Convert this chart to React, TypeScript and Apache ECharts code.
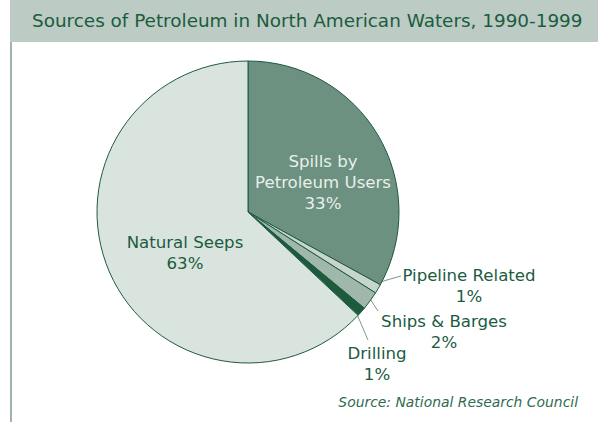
import React, { useEffect, useRef } from "react";
import * as echarts from "echarts";

const titleText = "Sources of Petroleum in North American Waters, 1990-1999";
const sourceText = "Source: National Research Council";
const categories = ["Spills by\nPetroleum Users", "Pipeline Related", "Ships & Barges", "Drilling", "Natural Seeps"];
const values = [33, 1, 2, 1, 63];
const sliceColors = ["#6c9180", "#c7d5cd", "#a0b8ab", "#1e5b3e", "#d9e4de"];

const DARK = "#1b5c3f";
const FONT = "'DejaVu Sans', sans-serif";

// label anchor positions (layout only)
const labelPos: [number, number][] = [
  [323, 182],
  [469, 286],
  [444, 332],
  [377, 364],
  [185, 253],
];
const labelLines: ([number, number][] | null)[] = [
  null,
  [[372, 285], [387, 280], [401, 276]],
  [[367, 293], [372, 302], [378, 311]],
  [[356, 312], [362, 326], [368, 340]],
  null,
];

export default function App() {
  const ref = useRef<HTMLDivElement>(null);
  useEffect(() => {
    if (!ref.current) return;
    const chart = echarts.init(ref.current, null, { renderer: "svg" });
    chart.setOption({
      animation: false,
      backgroundColor: "#ffffff",
      graphic: [
        { type: "rect", shape: { x: 10, y: 0, width: 588, height: 42 }, style: { fill: "#bccbc3" }, silent: true },
        { type: "line", shape: { x1: 11, y1: 42, x2: 11, y2: 422 }, style: { stroke: "#7f9a8f", lineWidth: 1.5 }, silent: true },
        {
          type: "text", left: 32, top: 11,
          style: { text: titleText, fill: DARK, font: `18.4px ${FONT}` },
        },
        {
          type: "text", right: 20, top: 395,
          style: { text: sourceText, fill: "#2e6b50", font: `italic 13.9px ${FONT}`, textAlign: "right" },
        },
      ],
      series: [
        {
          type: "pie",
          center: [248, 212],
          radius: 151,
          startAngle: 90,
          clockwise: true,
          itemStyle: { borderColor: "#1f5a40", borderWidth: 1 },
          label: {
            show: true,
            position: "outside",
            formatter: "{b}\n{c}%",
            color: DARK,
            fontFamily: FONT,
            fontSize: 16.6,
            lineHeight: 21,
            align: "center",
            overflow: "none",
            width: 300,
          },
          labelLine: { show: true, lineStyle: { color: "#7a9a8c", width: 1 } },
          labelLayout: (p: any) => {
            const i = p.dataIndex;
            const out: any = { x: labelPos[i][0], y: labelPos[i][1], align: "center", verticalAlign: "middle" };
            if (labelLines[i]) out.labelLinePoints = labelLines[i];
            return out;
          },
          data: categories.map((c, i) => ({
            name: c,
            value: values[i],
            itemStyle: { color: sliceColors[i] },
            label: i === 0 ? { color: "#e8efeb" } : undefined,
            labelLine: labelLines[i] ? undefined : { show: false },
          })),
        },
      ],
    });
    return () => chart.dispose();
  }, []);
  return <div ref={ref} style={{ position: "fixed", left: 0, top: 0, width: 598, height: 426 }} />;
}
